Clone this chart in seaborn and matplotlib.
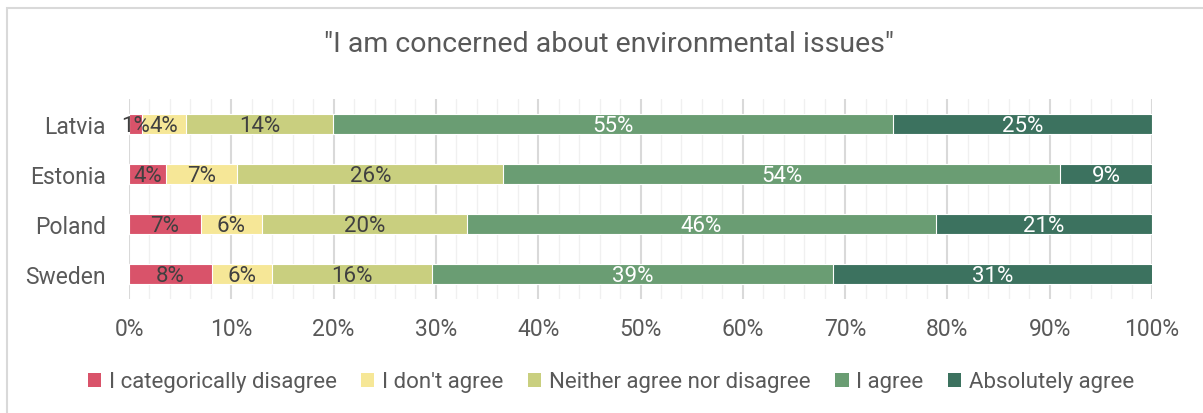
import matplotlib
matplotlib.use("Agg")
import matplotlib.pyplot as plt
import matplotlib.patches as mpatches
from matplotlib.ticker import MultipleLocator, PercentFormatter
import seaborn as sns
import pandas as pd
import numpy as np

countries = ["Latvia", "Estonia", "Poland", "Sweden"]
categories = ["I categorically disagree", "I don't agree",
              "Neither agree nor disagree", "I agree", "Absolutely agree"]
cat_disagree = [1.3, 3.6, 7.0, 8.1]
dont_agree = [4.3, 7.0, 6.0, 5.9]
neither = [14.3, 26.0, 20.0, 15.6]
agree = [54.8, 54.4, 45.9, 39.2]
absolutely = [25.3, 9.0, 21.1, 31.3]
colors = ["#D9536A", "#F6E797", "#C9CF7F", "#6A9D73", "#3C725F"]
label_colors = ["#404040", "#404040", "#404040", "white", "white"]

series = [cat_disagree, dont_agree, neither, agree, absolutely]

sns.set_theme(style="white")
plt.rcParams['font.family'] = ['Roboto', 'DejaVu Sans']
txt = "#595959"

fig = plt.figure(figsize=(12.03, 4.14), dpi=100)
ax = fig.add_axes([129/1203, 1-300/414, (1152-129)/1203, 200/414])

cum = np.zeros(len(countries))
cums = []
for s in series:
    cum = cum + np.array(s)
    cums.append(cum.copy())

# draw from largest cumulative down so that earlier segments sit on top
for i in range(len(series) - 1, -1, -1):
    d = pd.DataFrame({"country": countries, "value": cums[i]})
    sns.barplot(data=d, x="value", y="country", orient="h", color=colors[i],
                width=0.39, edgecolor="white", linewidth=0.8,
                saturation=1, ax=ax, zorder=3)

for i, s in enumerate(series):
    starts = cums[i] - np.array(s)
    for j, v in enumerate(s):
        ax.text(starts[j] + v / 2, j + 0.03, f"{round(v):.0f}%", ha="center", va="center",
                fontsize=16, color=label_colors[i], zorder=5)

ax.set_xlim(0, 100)
ax.set_ylim(3.5, -0.5)
ax.xaxis.set_major_locator(MultipleLocator(10))
ax.xaxis.set_minor_locator(MultipleLocator(2))
ax.xaxis.set_major_formatter(PercentFormatter(decimals=0))
ax.grid(axis="x", which="major", color="#D9D9D9", linewidth=1.5, zorder=0)
ax.grid(axis="x", which="minor", color="#F0F0F0", linewidth=1.0, zorder=0)
ax.grid(axis="y", visible=False)
ax.set_axisbelow(True)
for sp in ax.spines.values():
    sp.set_visible(False)
ax.set_xlabel("")
ax.set_ylabel("")
ax.tick_params(axis="x", which="both", length=0, pad=13, labelsize=16.5, labelcolor=txt)
ax.tick_params(axis="y", length=0, pad=16.5, labelsize=16.5, labelcolor=txt)

fig.text(609/1203, 1-45/414, "\"I am concerned about environmental issues\"",
         ha="center", va="center", fontsize=20.5, color=txt)

handles = [mpatches.Patch(facecolor=c, edgecolor="none") for c in colors]
fig.legend(handles, categories, loc="center", bbox_to_anchor=(611/1203, 1-383/414),
           ncol=5, frameon=False, fontsize=16, labelcolor=txt,
           handlelength=0.6, handleheight=0.6, handletextpad=0.35,
           columnspacing=1.1)

border = mpatches.Rectangle((7/1203, -0.1), 1.2, 1-9/414 + 0.1, transform=fig.transFigure,
                            fill=False, edgecolor="#D9D9D9", linewidth=1.5, zorder=0)
fig.patches.append(border)

fig.savefig("out.png", dpi=100)
